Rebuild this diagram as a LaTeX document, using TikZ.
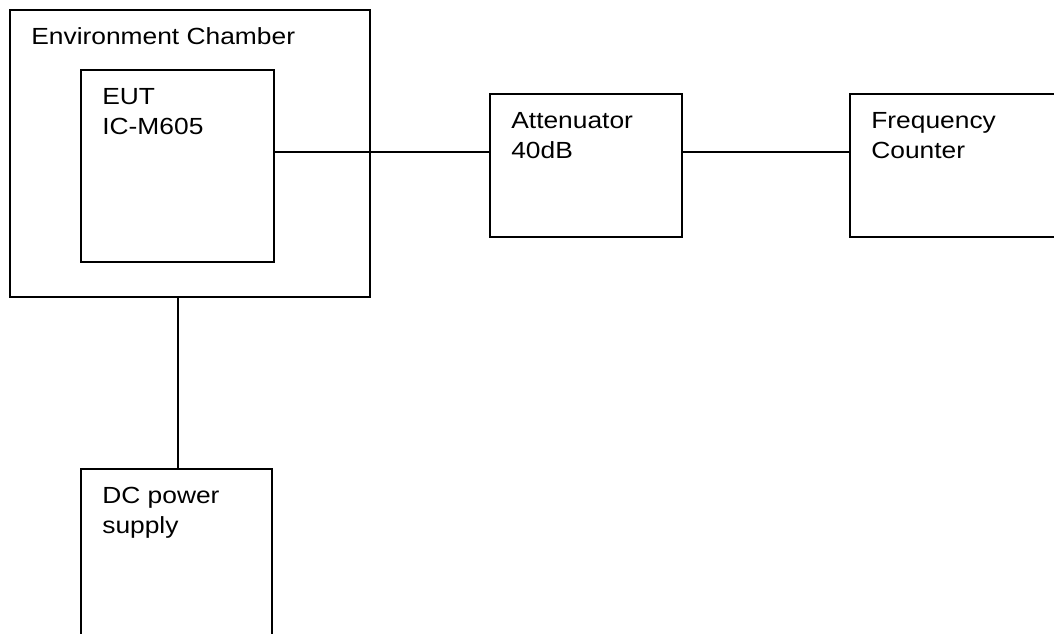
\documentclass[tikz,border=0pt]{standalone}
\usepackage{fontspec}
\setmainfont{Liberation Sans}[FakeStretch=1.13]
\usetikzlibrary{positioning}

% two lines, baseline on the first one
\newcommand{\twolines}[2]{\vtop{\hbox{#1}\hbox{#2}}}

\begin{document}
\begin{tikzpicture}[x=0.75pt, y=-0.75pt, line width=1.4pt,
    block/.style={draw, rectangle, inner sep=0pt},
    caption/.style={anchor=base west, inner sep=0pt,
        font=\fontsize{17.5}{22.5}\selectfont, xshift=16pt, yshift=-26.25pt}]

    \clip (0,0) rectangle (1054,634);

    \node[block, minimum width=270pt, minimum height=215.25pt]   (chamber) at (190,153.5)  {};
    \node[block, minimum width=144.75pt, minimum height=144pt]   (eut)     at (177.5,166)  {};
    \node[block, minimum width=144pt, minimum height=107.25pt]   (atten)   at (586,165.5)  {};
    \node[block, minimum width=172.5pt, minimum height=107.25pt] (freq)    at (965,165.5)  {};
    \node[block, minimum width=143.25pt, minimum height=144pt]   (dc)      at (176.5,565)  {};

    \node[caption] (chambertext) at (chamber.north west) {Environment Chamber};
    \node[caption] (euttext)     at (eut.north west)     {\twolines{EUT}{IC-M605}};
    \node[caption] (attentext)   at (atten.north west)   {\twolines{Attenuator}{40dB}};
    \node[caption] (freqtext)    at (freq.north west)    {\twolines{Frequency}{Counter}};
    \node[caption] (dctext)      at (dc.north west)      {\twolines{DC power}{supply}};

    \draw ([yshift=-62.25pt]eut.north east) -- ([yshift=-44.25pt]atten.north west);
    \draw ([yshift=-44.25pt]atten.north east) -- ([yshift=-44.25pt]freq.north west);
    \draw ([xshift=-9pt]chamber.south) -- ([xshift=-9pt]chamber.south |- dc.north);
\end{tikzpicture}
\end{document}
